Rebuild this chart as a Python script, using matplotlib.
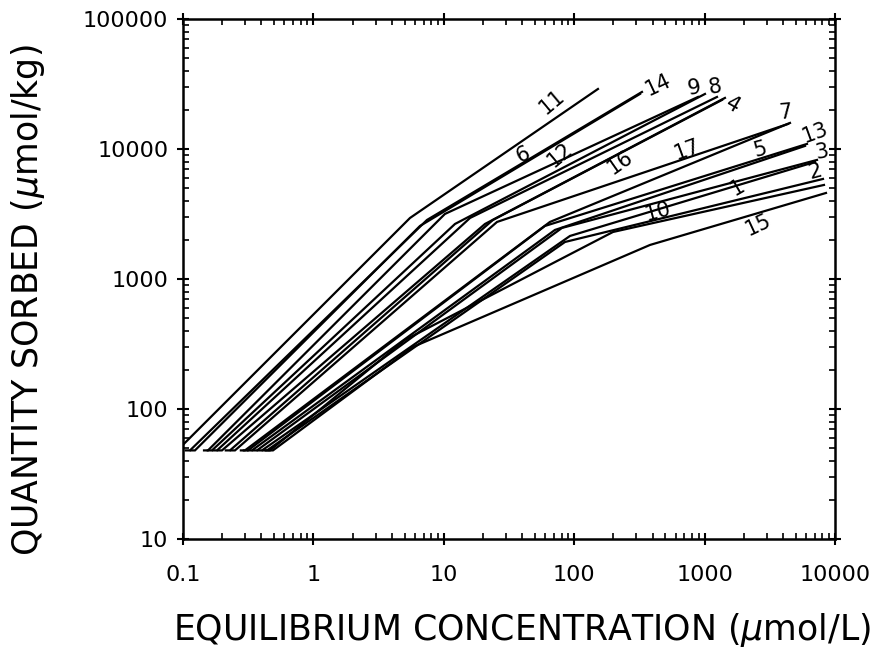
import matplotlib
matplotlib.use("Agg")
import matplotlib.pyplot as plt
from matplotlib.ticker import FixedLocator, LogLocator, NullFormatter

# isotherms, numbered 1..17 (x = equilibrium conc., y = quantity sorbed)
curve_names = ["1", "2", "3", "4", "5", "6", "7", "8", "9", "10",
               "11", "12", "13", "14", "15", "16", "17"]

curve_x = [
    [0.375, 0.4035, 92.9, 7024],           # 1
    [0.41, 0.4409, 85.0, 8091],            # 2
    [0.343, 0.3693, 80.6, 7278],           # 3
    [0.185, 0.1991, 20.7, 1433],           # 4
    [0.314, 0.3381, 71.2, 5888],           # 5
    [0.115, 0.1236, 6.57, 319.6],          # 6
    [0.278, 0.2988, 65.2, 4518],           # 7
    [0.17, 0.1823, 15.9, 1245],            # 8
    [0.155, 0.1669, 12.19, 1007],          # 9
    [0.432, 0.4648, 5.04, 198.4, 8234],    # 10
    [0.1, 5.51, 152.2],                    # 11
    [0.145, 0.1555, 10.2, 890],            # 12
    [0.293, 0.3152, 59.7, 6099],           # 13
    [0.105, 0.1132, 7.43, 331],            # 14
    [0.455, 0.49, 5.80, 381.3, 8531],      # 15
    [0.213, 0.2293, 23.8, 1359],           # 16
    [0.233, 0.2505, 25.6, 4362],           # 17
]

curve_y = [
    [48, 48, 2142, 7943],
    [48, 48, 1925, 5879],
    [48, 48, 2469, 8232],
    [48, 48, 2649, 24690],
    [48, 48, 2382, 10550],
    [48, 48, 2557, 26490],
    [48, 48, 2745, 15850],
    [48, 48, 2946, 25120],
    [48, 48, 2649, 26490],
    [48, 48, 339.6, 2298, 5286],
    [53, 2946, 28930],
    [48, 48, 3162, 25120],
    [48, 48, 2557, 10930],
    [48, 48, 2843, 27450],
    [48, 48, 299.9, 1826, 4586],
    [48, 48, 2843, 23820],
    [48, 48, 2745, 15570],
]

# where each number is written on the chart
label_x = [1772, 7024, 7948, 1651, 2660, 40.5, 4136, 1202, 829, 439,
           67.6, 77.8, 7024, 439, 2568, 224.5, 732.8]
label_y = [5012, 6655, 9483, 21800, 9825, 8990, 19250, 29990, 29460, 3276,
           22990, 8990, 13280, 31070, 2602, 7943, 9825]
label_rot = [30, 15, 10, -30, 15, 25, 5, 10, 10, 15,
             40, 40, 20, 25, 25, 35, 20]

x_ticks = [0.1, 1, 10, 100, 1000, 10000]
x_ticklabels = ["0.1", "1", "10", "100", "1000", "10000"]
y_ticks = [10, 100, 1000, 10000, 100000]
y_ticklabels = ["10", "100", "1000", "10000", "100000"]

fig = plt.figure(figsize=(8.78, 6.58), dpi=100)
ax = fig.add_axes([0.2084, 0.1809, 0.7426, 0.7903])

for i in range(len(curve_names)):
    ax.plot(curve_x[i], curve_y[i], color="black", lw=1.6,
            solid_joinstyle="miter")
    ax.text(label_x[i], label_y[i], curve_names[i], rotation=label_rot[i],
            ha="center", va="center", fontsize=15)

ax.set_xscale("log")
ax.set_yscale("log")
ax.set_xlim(0.1, 10000)
ax.set_ylim(10, 100000)

ax.xaxis.set_major_locator(FixedLocator(x_ticks))
ax.set_xticklabels(x_ticklabels)
ax.yaxis.set_major_locator(FixedLocator(y_ticks))
ax.set_yticklabels(y_ticklabels)
ax.xaxis.set_minor_locator(LogLocator(base=10, subs=range(2, 10), numticks=20))
ax.yaxis.set_minor_locator(LogLocator(base=10, subs=range(2, 10), numticks=20))
ax.xaxis.set_minor_formatter(NullFormatter())
ax.yaxis.set_minor_formatter(NullFormatter())

ax.tick_params(which="major", direction="inout", length=9, width=1.5,
               top=True, right=True, labelsize=16)
ax.tick_params(axis="x", which="major", pad=14)
ax.tick_params(axis="y", which="major", pad=6)
ax.tick_params(which="minor", direction="in", length=4, width=1.2,
               top=True, right=True)
for s in ax.spines.values():
    s.set_linewidth(1.8)

ax.set_xlabel("EQUILIBRIUM CONCENTRATION ($\\mu$mol/L)", fontsize=25,
              va="center", ha="center")
ax.set_ylabel("QUANTITY SORBED ($\\mu$mol/kg)", fontsize=25,
              va="center", ha="center")
ax.xaxis.set_label_coords(0.52, -0.175)
ax.yaxis.set_label_coords(-0.238, 0.46)

fig.savefig("out.png", dpi=100)
